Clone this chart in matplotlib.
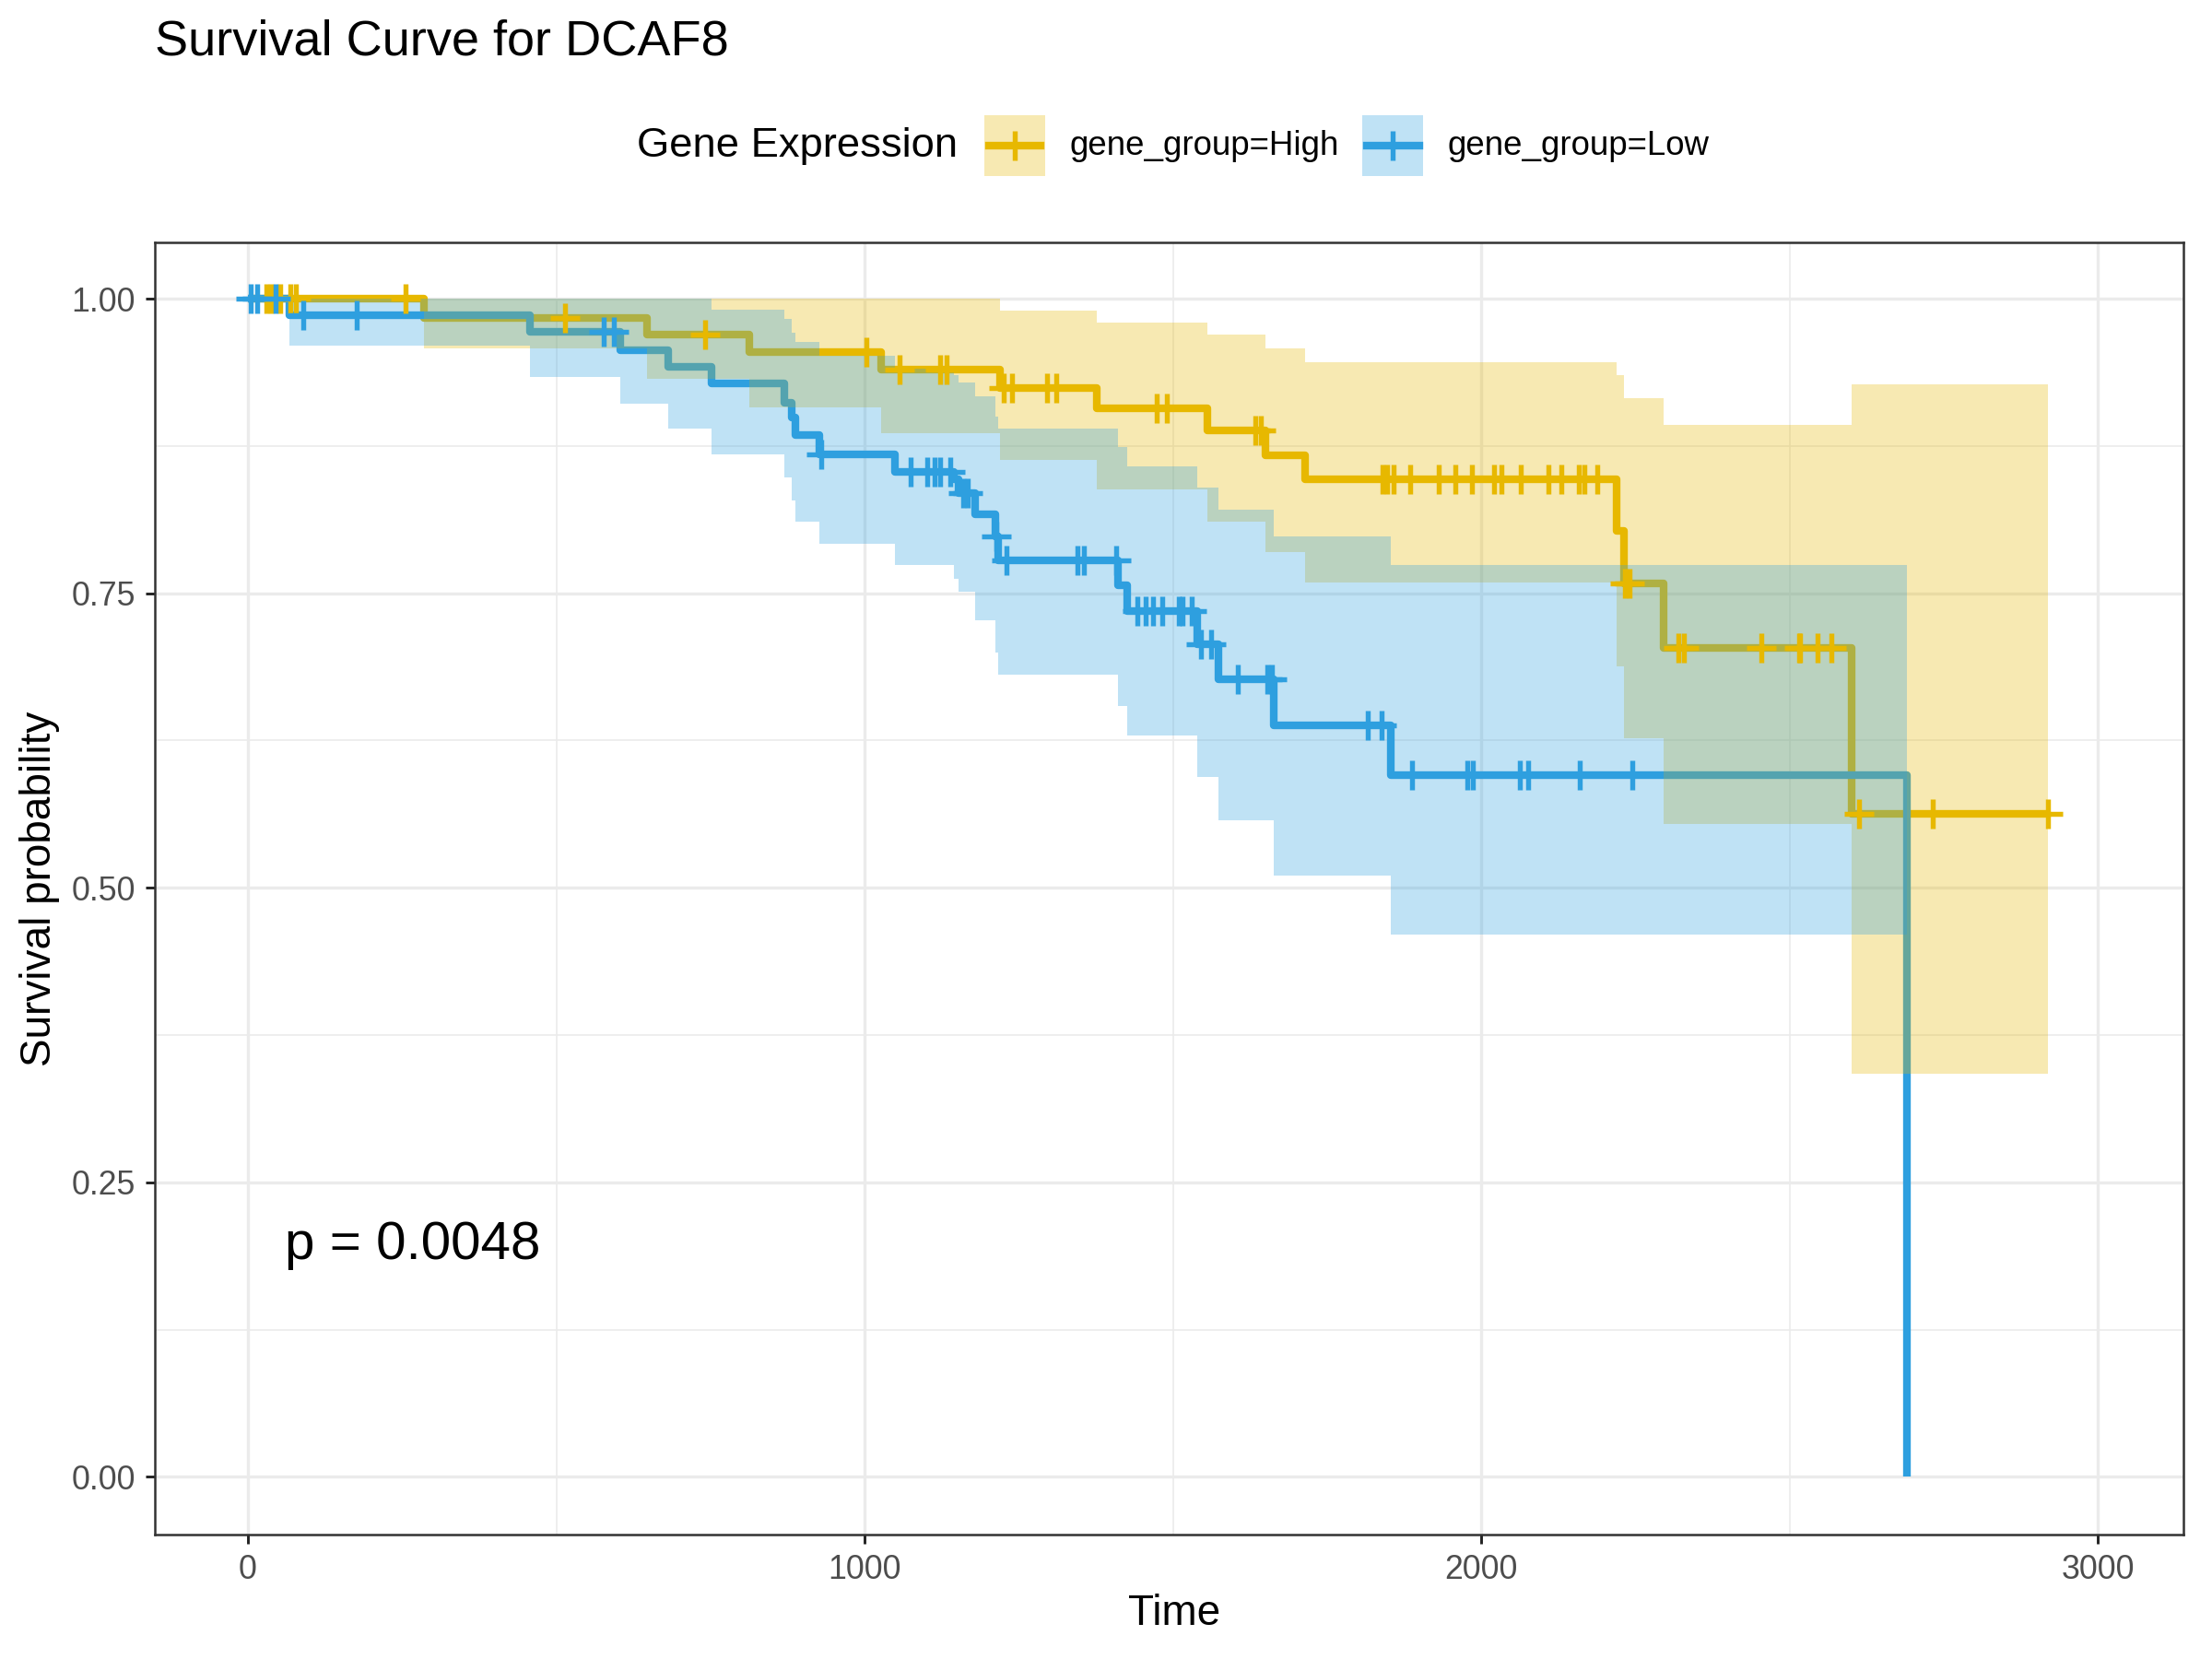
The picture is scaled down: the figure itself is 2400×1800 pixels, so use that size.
import numpy as np
import matplotlib
matplotlib.use('Agg')
import matplotlib.pyplot as plt
from matplotlib.patches import Rectangle
from matplotlib.lines import Line2D

plt.rcParams['font.family'] = ['Liberation Sans', 'DejaVu Sans']

# Kaplan-Meier estimates
high_time = [0, 285, 647, 813, 1026, 1219, 1376, 1555, 1650, 1714, 2219, 2231, 2296, 2600]
high_surv = [1.0, 0.984, 0.970, 0.955, 0.940, 0.9245, 0.907, 0.888, 0.8675, 0.847, 0.803, 0.758, 0.704, 0.563]
high_upper = [1.0, 1.0, 1.0, 1.0, 1.0, 0.990, 0.980, 0.970, 0.958, 0.946, 0.935, 0.916, 0.893, 0.927]
high_lower = [1.0, 0.958, 0.932, 0.908, 0.886, 0.863, 0.838, 0.811, 0.785, 0.759, 0.688, 0.627, 0.554, 0.342]
high_end = 2918
high_censor = [30, 38, 52, 68, 78, 255, 514, 741, 1002, 1056, 1122, 1133, 1225, 1239, 1296, 1310,
               1474, 1490, 1634, 1643, 1839, 1847, 1858, 1885, 1931, 1958, 1984, 2020, 2032, 2064,
               2109, 2129, 2158, 2167, 2188, 2233, 2240, 2320, 2328, 2454, 2515, 2517, 2545, 2567,
               2612, 2732, 2918]

low_time = [0, 67, 457, 603, 682, 752, 870, 882, 888, 926, 1049, 1145, 1152, 1179, 1212, 1216,
            1410, 1425, 1539, 1573, 1663, 1853, 2690]
low_surv = [1.0, 0.986, 0.972, 0.9565, 0.942, 0.928, 0.912, 0.899, 0.884, 0.868, 0.853, 0.847,
            0.835, 0.817, 0.798, 0.778, 0.757, 0.735, 0.7065, 0.677, 0.638, 0.596, 0.0]
low_upper = [1.0, 1.0, 1.0, 1.0, 1.0, 0.991, 0.983, 0.971, 0.963, 0.952, 0.941, 0.935, 0.929,
             0.917, 0.900, 0.890, 0.8745, 0.858, 0.840, 0.8206, 0.798, 0.774]
low_lower = [1.0, 0.960, 0.934, 0.911, 0.890, 0.868, 0.848, 0.829, 0.811, 0.792, 0.774, 0.762,
             0.751, 0.727, 0.700, 0.681, 0.654, 0.629, 0.594, 0.557, 0.510, 0.460]
low_censor = [5, 15, 45, 89, 177, 577, 593, 930, 1075, 1102, 1113, 1122, 1139, 1159, 1167, 1214,
              1230, 1345, 1356, 1408, 1442, 1456, 1467, 1483, 1510, 1516, 1530, 1545, 1562, 1605,
              1653, 1661, 1815, 1838, 1888, 1977, 1986, 2063, 2075, 2159, 2244]

groups = ['gene_group=High', 'gene_group=Low']
colors = ['#E7B800', '#2E9FDF']
pval_text = 'p = 0.0048'

LW = 2.0
MS = 7.5
MEW = 1.3


def surv_at(times, surv, t):
    idx = np.searchsorted(times, t, side='right') - 1
    return np.asarray(surv)[idx]


fig = plt.figure(figsize=(8, 6), dpi=300)
ax = fig.add_axes([0.070, 0.075, 0.917, 0.779])

# step lines (under ribbons, like ggsurvplot)
ax.plot(high_time + [high_end], high_surv + [high_surv[-1]], drawstyle='steps-post',
        color=colors[0], lw=LW, zorder=2, solid_joinstyle='round', solid_capstyle='butt')
ax.plot(low_time, low_surv, drawstyle='steps-post',
        color=colors[1], lw=LW, zorder=2, solid_joinstyle='round', solid_capstyle='butt')

# confidence ribbons
ax.fill_between(high_time + [high_end], high_lower + [high_lower[-1]], high_upper + [high_upper[-1]],
                step='post', color=colors[0], alpha=0.3, lw=0, zorder=3)
ax.fill_between(low_time, low_lower + [low_lower[-1]], low_upper + [low_upper[-1]],
                step='post', color=colors[1], alpha=0.3, lw=0, zorder=3)

# censor marks
ax.plot(high_censor, surv_at(high_time, high_surv, high_censor), '+', color=colors[0],
        ms=MS, mew=MEW, zorder=4, clip_on=False)
ax.plot(low_censor, surv_at(low_time, low_surv, low_censor), '+', color=colors[1],
        ms=MS, mew=MEW, zorder=4, clip_on=False)

ax.text(60, 0.197, pval_text, fontsize=14, ha='left', va='center')

ax.set_xlim(-151, 3138)
ax.set_ylim(-0.049, 1.048)
ax.set_xticks([0, 1000, 2000, 3000])
ax.set_xticks([500, 1500, 2500], minor=True)
ax.set_yticks([0, 0.25, 0.5, 0.75, 1.0])
ax.set_yticklabels(['0.00', '0.25', '0.50', '0.75', '1.00'])
ax.set_yticks([0.125, 0.375, 0.625, 0.875], minor=True)
ax.grid(which='major', color='#EBEBEB', lw=0.8, zorder=0)
ax.grid(which='minor', color='#EBEBEB', lw=0.4, zorder=0)
ax.set_axisbelow(True)
ax.tick_params(which='major', length=2.5, width=0.7, color='#222222', labelsize=8.6,
               labelcolor='#4D4D4D', pad=2.5)
ax.tick_params(which='minor', length=0)
for s in ax.spines.values():
    s.set_color('#333333')
    s.set_linewidth(0.6)

fig.text(0.531, 0.027, 'Time', fontsize=11, ha='center', va='center')
fig.text(0.018, 0.464, 'Survival probability', fontsize=11, ha='center', va='center', rotation=90)
fig.text(0.0702, 0.9745, 'Survival Curve for DCAF8', fontsize=13, ha='left', va='center')

# legend at top
fig.text(0.288, 0.912, 'Gene Expression', fontsize=10.9, ha='left', va='center')
key_x = [0.445, 0.616]
lab_x = [0.4834, 0.6543]
kw, kh = 0.0275, 0.0366
for kx, lx, c, g in zip(key_x, lab_x, colors, groups):
    fig.add_artist(Rectangle((kx, 0.912 - kh / 2), kw, kh, transform=fig.transFigure,
                             facecolor=c, alpha=0.3, lw=0))
    fig.add_artist(Line2D([kx + 0.002, kx + kw - 0.002], [0.912, 0.912], transform=fig.transFigure,
                          color=c, lw=LW))
    fig.add_artist(Line2D([kx + kw / 2], [0.912], transform=fig.transFigure, marker='+',
                          color=c, ms=MS, mew=MEW))
    fig.text(lx, 0.912, g, fontsize=8.8, ha='left', va='center')

fig.savefig('out.png', dpi=300)
